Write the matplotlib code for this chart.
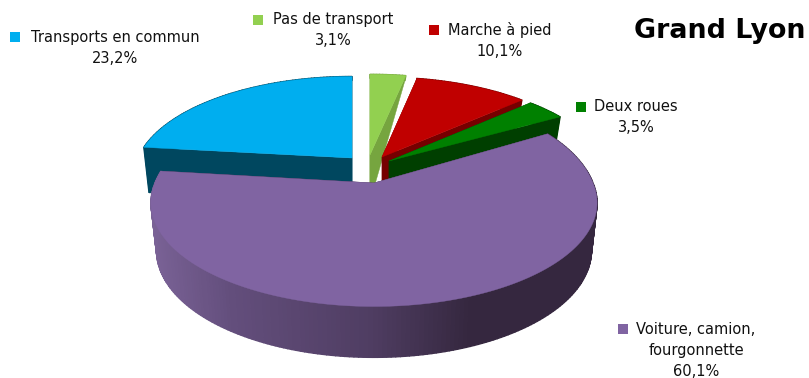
import numpy as np
import matplotlib
matplotlib.use("Agg")
import matplotlib.pyplot as plt
from matplotlib.colors import to_rgb

# Data, in drawing order around the pie, clockwise from 12 o'clock
categories = ["Pas de transport", "Marche à pied", "Deux roues",
              "Voiture, camion,\nfourgonnette", "Transports en commun"]
values = [3.1, 10.1, 3.5, 60.1, 23.2]
title = "Grand Lyon"

top_colors = ["#92D050", "#C00000", "#008000", "#8064A2", "#00AEEF"]
wall_colors = ["#76A53F", "#760000", "#003F00", "#35273F", "#00475F"]
apexes = [(370, 155), (382, 157), (389, 161), (374, 183), (352, 158)]
radii = [220, 214, 216, 219, 214]
back_scale = [96, 95, 97, 108, 97]
draw_order = [4, 0, 1, 2, 3]

label_xy = [(333, 30), (500, 41), (636, 117), (696, 351), (115.5, 48)]
marker_xy = [(258.5, 19.5), (434.5, 30), (581.5, 106.5), (623.5, 328.5), (15.5, 36.5)]

K, P, TAPER = 100.0, 0.19, 0.975


def depth(Y):
    return np.interp(Y, [-1, 0.1, 0.5, 1], [54, 46, 25, 2])


def project(i, theta, rad=1.0):
    """Plan position (clockwise from back) to screen pixels, top face and bottom face."""
    apex, R = apexes[i], radii[i]
    X, Y = rad * np.sin(theta), rad * np.cos(theta)
    f = 1 / (1 + P * Y)
    k = back_scale[i] if Y > 0 else K
    tx, ty = R * X * f, -k * Y * f
    top = np.array([apex[0] + tx, apex[1] + ty])
    bot = np.array([apex[0] + TAPER * tx, apex[1] + TAPER * ty + depth(Y)])
    return top, bot


fig = plt.figure(figsize=(8.09, 3.78), dpi=100)
ax = fig.add_axes([0, 0, 1, 1])
ax.set_xlim(0, 809)
ax.set_ylim(378, 0)
ax.axis("off")

edges = np.radians(np.concatenate([[0], np.cumsum(values)]) * 3.6)

grad_x = [150, 230, 370, 470, 600]
grad_c = [to_rgb(c) for c in ["#7A6296", "#634E7C", "#4F3D62", "#35273F", "#35273F"]]


def wall_col(i, x):
    if i != 3:
        return wall_colors[i]
    return tuple(np.interp(x, grad_x, [c[k] for c in grad_c]) for k in range(3))


for i in draw_order:
    a0, a1 = edges[i], edges[i + 1]
    level = draw_order.index(i) * 3
    th = np.linspace(a0, a1, max(int(np.degrees(a1 - a0)), 4) + 1)
    apex_top, apex_bot = project(i, 0.0, 0.0)
    # radial faces
    for a in (a0, a1):
        t, b = project(i, a)
        ax.fill([apex_top[0], t[0], b[0], apex_bot[0]],
                [apex_top[1], t[1], b[1], apex_bot[1]],
                color=wall_col(i, 470), lw=0.3, zorder=level + 1)
    # outer rim, one strip per degree
    for t0, t1 in zip(th[:-1], th[1:]):
        p0, q0 = project(i, t0)
        p1, q1 = project(i, t1)
        ax.fill([p0[0], p1[0], q1[0], q0[0]], [p0[1], p1[1], q1[1], q0[1]],
                color=wall_col(i, (p0[0] + p1[0]) / 2), lw=1.0, zorder=level + 2)
    # top face
    rim = np.array([project(i, t)[0] for t in th])
    ax.fill(np.r_[apex_top[0], rim[:, 0]], np.r_[apex_top[1], rim[:, 1]],
            color=top_colors[i], lw=0.3, zorder=level + 3)

font = dict(family="DejaVu Sans", color="#111111", zorder=30)
for name, v, (x, y), (mx, my), c in zip(categories, values, label_xy, marker_xy, top_colors):
    ax.text(x, y, f"{name}\n{v:.1f}%".replace(".", ","), ha="center", va="center",
            fontsize=10.5, linespacing=1.5, **font)
    ax.scatter([mx], [my], marker="s", s=46, color=c, linewidths=0, zorder=30)

ax.text(806, 31, title, ha="right", va="center", fontsize=19.4, fontweight="bold",
        family="DejaVu Sans", color="black")

fig.savefig("out.png", dpi=100)
